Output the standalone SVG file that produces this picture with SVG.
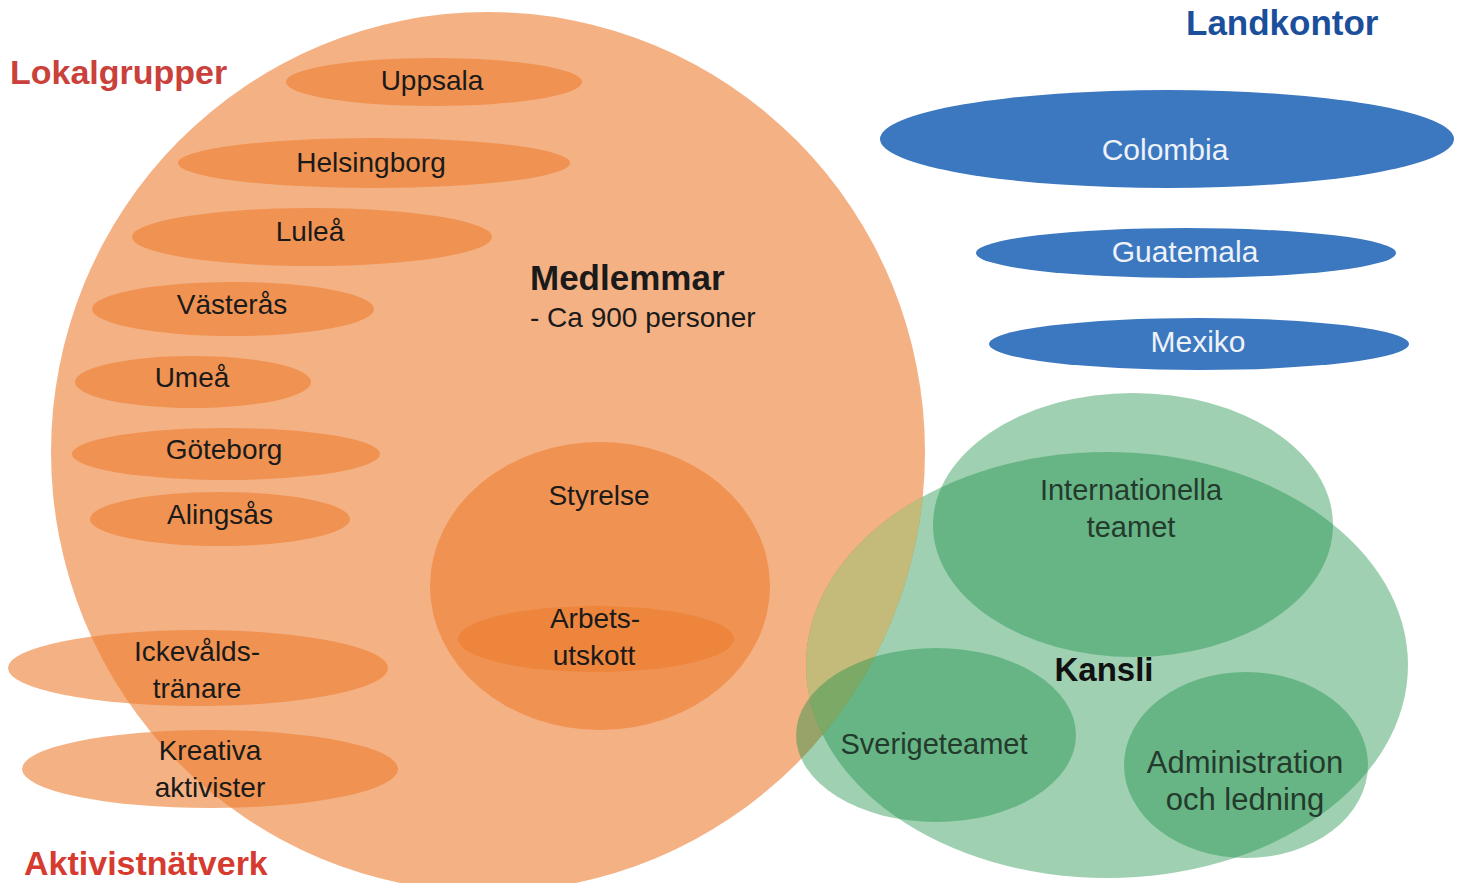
<svg xmlns="http://www.w3.org/2000/svg" width="1464" height="883" viewBox="0 0 1464 883">
<defs>
<clipPath id="orangeClip"><ellipse cx="488" cy="452" rx="437" ry="440"/></clipPath>
</defs>
<style>
.or{fill:#ED7D31;fill-opacity:0.6}
.bl{fill:#3C78C0}
.gr{fill:#1E914B;fill-opacity:0.43}
text{font-family:"Liberation Sans",Arial,sans-serif;text-anchor:middle}
.t{font-size:28px;fill:#1a1a1a}
.w{font-size:30px;fill:#EEF2F8}
.g{font-size:29px;fill:#243a2d}
.h{font-size:34px;font-weight:bold;text-anchor:start}
</style>
<rect width="1464" height="883" fill="#ffffff"/>
<g id="medlemmar">
<ellipse class="or" cx="488" cy="452" rx="437" ry="440"/>
<text x="530" y="290" style="font-size:35px;font-weight:bold;text-anchor:start;fill:#1a1a1a">Medlemmar</text>
<text x="530" y="327" class="t" style="text-anchor:start">- Ca 900 personer</text>
</g>
<g id="uppsala"><ellipse class="or" cx="434" cy="82" rx="148" ry="24"/><text class="t" x="432" y="90">Uppsala</text></g>
<g id="helsingborg"><ellipse class="or" cx="374" cy="163" rx="196" ry="25"/><text class="t" x="371" y="172">Helsingborg</text></g>
<g id="lulea"><ellipse class="or" cx="312" cy="237" rx="180" ry="29"/><text class="t" x="310" y="241">Luleå</text></g>
<g id="vasteras"><ellipse class="or" cx="233" cy="309" rx="141" ry="27"/><text class="t" x="232" y="314">Västerås</text></g>
<g id="umea"><ellipse class="or" cx="193" cy="382" rx="118" ry="26"/><text class="t" x="192" y="387">Umeå</text></g>
<g id="goteborg"><ellipse class="or" cx="226" cy="454" rx="154" ry="26"/><text class="t" x="224" y="459">Göteborg</text></g>
<g id="alingsas"><ellipse class="or" cx="220" cy="519" rx="130" ry="27"/><text class="t" x="220" y="524">Alingsås</text></g>
<g id="ickevalds"><ellipse class="or" cx="198" cy="668" rx="190" ry="38"/><text class="t" x="197" y="661">Ickevålds-</text><text class="t" x="197" y="698">tränare</text></g>
<g id="kreativa"><ellipse class="or" cx="210" cy="769" rx="188" ry="39"/><text class="t" x="210" y="760">Kreativa</text><text class="t" x="210" y="797">aktivister</text></g>
<g id="styrelse"><ellipse class="or" cx="600" cy="586" rx="170" ry="144"/><text class="t" x="599" y="505">Styrelse</text></g>
<g id="arbetsutskott"><ellipse class="or" cx="596" cy="639" rx="138" ry="33"/><text class="t" x="595" y="628">Arbets-</text><text class="t" x="594" y="665">utskott</text></g>
<g id="colombia"><ellipse class="bl" cx="1167" cy="139" rx="287" ry="49"/><text class="w" x="1165" y="160">Colombia</text></g>
<g id="guatemala"><ellipse class="bl" cx="1186" cy="253" rx="210" ry="25"/><text class="w" x="1185" y="262">Guatemala</text></g>
<g id="mexiko"><ellipse class="bl" cx="1199" cy="344" rx="210" ry="26"/><text class="w" x="1198" y="352">Mexiko</text></g>
<g id="kansli">
<ellipse class="gr" cx="1107" cy="665" rx="301" ry="213"/>
<ellipse cx="1107" cy="665" rx="301" ry="213" fill="#C4BA7A" clip-path="url(#orangeClip)"/>
<text x="1104" y="681" style="font-size:33px;font-weight:bold;fill:#111">Kansli</text>
</g>
<g id="internationella"><ellipse class="gr" cx="1133" cy="525" rx="200" ry="132"/><text class="g" x="1131" y="500">Internationella</text><text class="g" x="1131" y="537">teamet</text></g>
<g id="sverigeteamet"><ellipse class="gr" cx="936" cy="735" rx="140" ry="87"/><text class="g" x="934" y="754">Sverigeteamet</text></g>
<g id="administration"><ellipse class="gr" cx="1246" cy="765" rx="122" ry="93"/><text class="g" x="1245" y="773" style="font-size:31px">Administration</text><text class="g" x="1245" y="810" style="font-size:31px">och ledning</text></g>
<g id="labels">
<text class="h" x="10" y="84" fill="#C9413A">Lokalgrupper</text>
<text class="h" x="24" y="875" fill="#D63B2F">Aktivistnätverk</text>
<text class="h" x="1186" y="35" fill="#1B4F9B" style="font-size:35px">Landkontor</text>
</g>
<g id="connectors"/>
</svg>
